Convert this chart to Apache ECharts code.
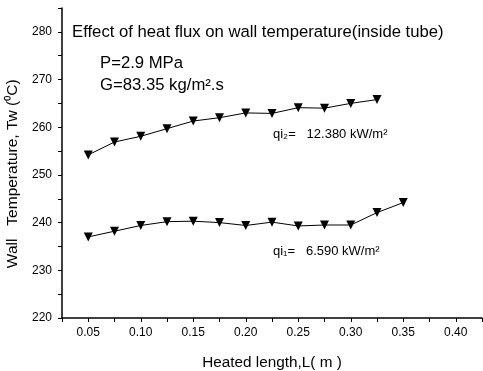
<!DOCTYPE html>
<html><head><meta charset="utf-8">
<script src="https://cdn.jsdelivr.net/npm/echarts@6/dist/echarts.min.js"></script>
<style>html,body{margin:0;padding:0;background:#fff}#c{width:483px;height:371px}</style>
</head><body><div id="c"></div>
<script>
const lengthsQ1 = [0.05,0.075,0.10,0.125,0.15,0.175,0.20,0.225,0.25,0.275,0.30,0.325,0.35];
const tempsQ1 = [237.0,238.2,239.4,240.2,240.3,240.0,239.4,240.1,239.3,239.5,239.5,242.1,244.2];
const lengthsQ2 = [0.05,0.075,0.10,0.125,0.15,0.175,0.20,0.225,0.25,0.275,0.30,0.325];
const tempsQ2 = [254.2,256.9,258.1,259.7,261.3,262.0,263.0,262.9,264.1,264.0,265.0,265.8];
const titleText = 'Effect of heat flux on wall temperature(inside tube)';
const pressureText = 'P=2.9 MPa';
const fluxText = 'G=83.35 kg/m\u00B2.s';
const q2Label = 'qi\u2082=   12.380 kW/m\u00B2';
const q1Label = 'qi\u2081=   6.590 kW/m\u00B2';
const xName = 'Heated length,L( m )';
const yName = 'Wall   Temperature, Tw (\u2070C)     ';

const font = 'Liberation Sans, Arial, sans-serif';
const chart = echarts.init(document.getElementById('c'));
const mk = (xs, ys) => xs.map((x, i) => [x, ys[i]]);
const seriesStyle = {
  type: 'line', symbol: 'triangle', symbolRotate: 180, symbolSize: 9,
  lineStyle: {color: '#000', width: 1}, itemStyle: {color: '#000'}, animation: false
};
chart.setOption({
  animation: false,
  grid: {left: 62, top: 8, right: 1, bottom: 53, containLabel: false, outerBoundsMode: 'none'},
  xAxis: {
    type: 'value', min: 0.025, max: 0.425, interval: 0.025,
    name: xName, nameLocation: 'middle', nameGap: 37,
    nameTextStyle: {fontFamily: font, fontSize: 15.3, color: '#000'},
    axisLine: {lineStyle: {color: '#000', width: 1.5}},
    axisTick: {inside: false, length: 4, lineStyle: {color: '#000'}},
    splitLine: {show: false},
    axisLabel: {fontFamily: font, fontSize: 12, color: '#000', margin: 9,
      formatter: v => (Math.round(v * 1000) % 50 === 0 && v < 0.42) ? v.toFixed(2) : ''}
  },
  yAxis: {
    type: 'value', min: 220, max: 285, interval: 5,
    name: yName, nameLocation: 'middle', nameGap: 37,
    nameTextStyle: {fontFamily: font, fontSize: 15.5, color: '#000'},
    axisLine: {lineStyle: {color: '#000', width: 1.5}},
    axisTick: {inside: false, length: 4, lineStyle: {color: '#000'}},
    splitLine: {show: false},
    axisLabel: {fontFamily: font, fontSize: 12, color: '#000', margin: 10,
      formatter: v => (v % 10 === 0) ? String(v) : ''}
  },
  graphic: [
    {type: 'text', left: 72, top: 24, style: {text: titleText, font: '16.7px ' + font, fill: '#000'}},
    {type: 'text', left: 100, top: 55, style: {text: pressureText, font: '16.7px ' + font, fill: '#000'}},
    {type: 'text', left: 100, top: 77, style: {text: fluxText, font: '16.7px ' + font, fill: '#000'}},
    {type: 'text', left: 273, top: 128, style: {text: q2Label, font: '13px ' + font, fill: '#000'}},
    {type: 'text', left: 273, top: 245, style: {text: q1Label, font: '13px ' + font, fill: '#000'}}
  ],
  series: [
    Object.assign({name: 'qi1', data: mk(lengthsQ1, tempsQ1)}, seriesStyle),
    Object.assign({name: 'qi2', data: mk(lengthsQ2, tempsQ2)}, seriesStyle)
  ]
});
</script></body></html>
